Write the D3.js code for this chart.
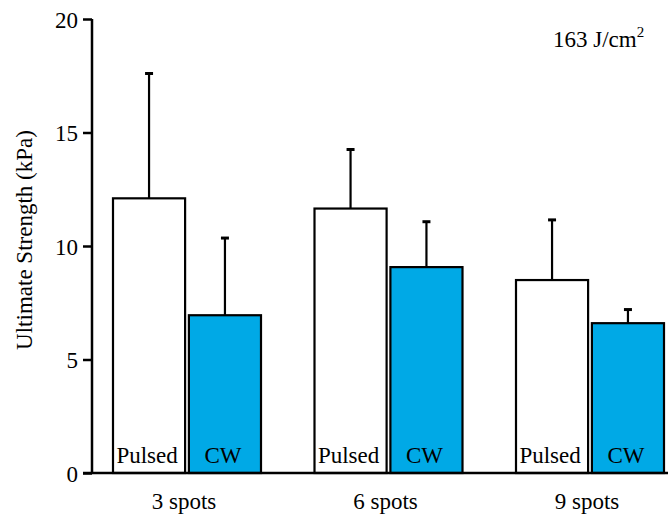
<!DOCTYPE html>
<html>
<head>
<meta charset="utf-8">
<script src="https://cdn.jsdelivr.net/npm/d3@7"></script>
<style>
  body { margin: 0; background: #fff; }
  svg text { font-family: "Liberation Serif", Tinos, Times, "Times New Roman", "DejaVu Serif", serif !important; fill: #000; }
</style>
</head>
<body>
<div id="chart"></div>
<script>
// data
let groups = ["3 spots", "6 spots", "9 spots"];
let modes = ["Pulsed", "CW"];
let pulsedMean = [12.1, 11.65, 8.5];
let pulsedErr = [5.5, 2.6, 2.65];
let cwMean = [6.95, 9.07, 6.6];
let cwErr = [3.4, 2.0, 0.6];
let yTicks = [0, 5, 10, 15, 20];

let width = 668, height = 522;

let svg = d3.select("#chart").append("svg")
    .attr("width", width)
    .attr("height", height);

let y = d3.scaleLinear()
    .domain([0, 20])
    .range([473, 19]);

let x0 = d3.scalePoint()
    .domain(groups)
    .range([187, 590]);

let x1 = d3.scaleBand()
    .domain(modes)
    .range([-74, 74])
    .paddingInner(0.05);

let colors = { "Pulsed": "#ffffff", "CW": "#00a9e6" };

let bars = [];
groups.forEach((g, i) => {
    bars.push({ group: g, mode: "Pulsed", mean: pulsedMean[i], err: pulsedErr[i] });
    bars.push({ group: g, mode: "CW", mean: cwMean[i], err: cwErr[i] });
});

// error bars (upper only) drawn first so bar outline sits on top
let eb = svg.append("g").attr("class", "errors");
eb.selectAll("line.stem")
    .data(bars)
    .join("line")
    .attr("class", "stem")
    .attr("x1", d => x0(d.group) + x1(d.mode) + x1.bandwidth() / 2)
    .attr("x2", d => x0(d.group) + x1(d.mode) + x1.bandwidth() / 2)
    .attr("y1", d => y(d.mean))
    .attr("y2", d => y(d.mean + d.err))
    .attr("stroke", "#000")
    .attr("stroke-width", 2.2);

eb.selectAll("line.cap")
    .data(bars)
    .join("line")
    .attr("class", "cap")
    .attr("x1", d => x0(d.group) + x1(d.mode) + x1.bandwidth() / 2 - 4)
    .attr("x2", d => x0(d.group) + x1(d.mode) + x1.bandwidth() / 2 + 4)
    .attr("y1", d => y(d.mean + d.err))
    .attr("y2", d => y(d.mean + d.err))
    .attr("stroke", "#000")
    .attr("stroke-width", 3);

svg.append("g").selectAll("rect")
    .data(bars)
    .join("rect")
    .attr("x", d => x0(d.group) + x1(d.mode))
    .attr("y", d => y(d.mean))
    .attr("width", x1.bandwidth())
    .attr("height", d => y(0) - y(d.mean))
    .attr("fill", d => colors[d.mode])
    .attr("stroke", "#000")
    .attr("stroke-width", 2.2);

// labels inside bars
svg.append("g").selectAll("text")
    .data(bars)
    .join("text")
    .attr("x", d => x0(d.group) + x1(d.mode) + x1.bandwidth() / 2 - 2)
    .attr("y", y(0) - 10)
    .attr("text-anchor", "middle")
    .style("font-size", "23px")
    .text(d => d.mode);

// y axis
let yAxis = svg.append("g")
    .attr("transform", "translate(92,0)")
    .call(d3.axisLeft(y).tickValues(yTicks).tickSize(9).tickPadding(5));
yAxis.select(".domain")
    .attr("d", `M0,${y(20)}V${y(0)}`)
    .attr("stroke-width", 2.5);
yAxis.selectAll(".tick line").attr("stroke-width", 2.5);
yAxis.selectAll(".tick text")
    .style("font-size", "23px")
    .attr("dy", "0.35em");

// x axis line
svg.append("line")
    .attr("x1", 83)
    .attr("x2", width)
    .attr("y1", y(0))
    .attr("y2", y(0))
    .attr("stroke", "#000")
    .attr("stroke-width", 2.5);

// group labels
svg.append("g").selectAll("text")
    .data(groups)
    .join("text")
    .attr("x", d => x0(d) - 3)
    .attr("y", 509)
    .attr("text-anchor", "middle")
    .style("font-size", "23px")
    .text(d => d);

// y title
svg.append("text")
    .attr("transform", "translate(32,240) rotate(-90)")
    .attr("text-anchor", "middle")
    .style("font-size", "23px")
    .text("Ultimate Strength (kPa)");

// fluence note
let note = svg.append("text")
    .attr("x", 553)
    .attr("y", 47)
    .style("font-size", "23px");
note.append("tspan").text("163 J/cm");
note.append("tspan")
    .attr("dy", -10)
    .style("font-size", "15px")
    .text("2");
</script>
</body>
</html>
